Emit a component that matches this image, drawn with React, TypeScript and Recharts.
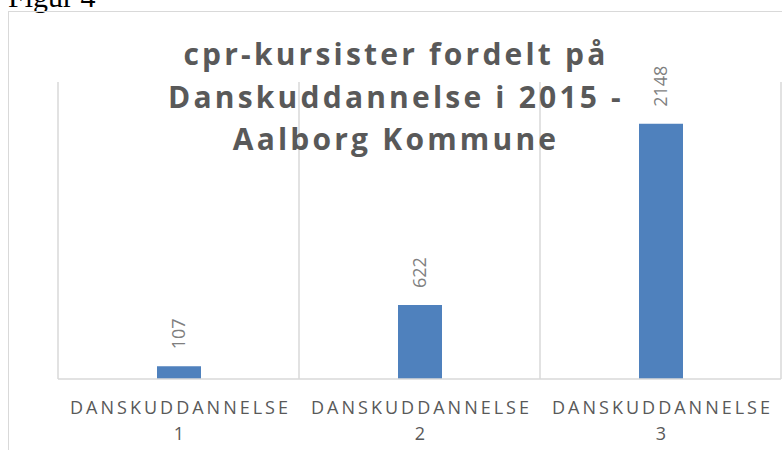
import React from "react"
import { BarChart, Bar, XAxis, YAxis, CartesianGrid, LabelList } from "recharts"

const categories = ["DANSKUDDANNELSE 1", "DANSKUDDANNELSE 2", "DANSKUDDANNELSE 3"]
const values = [107, 622, 2148]
const titleLines = ["cpr-kursister fordelt på", "Danskuddannelse i 2015 -", "Aalborg Kommune"]

const chartData = categories.map((name, i) => ({ name, value: values[i] }))

const FONT = "'Open Sans', 'Noto Sans', sans-serif"

function CategoryTick(props: any) {
  const { x, y, payload } = props
  const words = String(payload.value).split(" ")
  return (
    <g transform={`translate(${x},${y})`}>
      <text
        textAnchor="middle"
        fill="#595959"
        fontFamily={FONT}
        fontSize={18}
        letterSpacing={3}
      >
        <tspan x={2} dy={27}>{words[0]}</tspan>
        <tspan x={2} dy={26}>{words[1]}</tspan>
      </text>
    </g>
  )
}

function RotatedValue(props: any) {
  const { x, y, width, value } = props
  const cx = x + width / 2
  const cy = y - 17
  return (
    <text
      x={cx}
      y={cy}
      transform={`rotate(-90 ${cx} ${cy})`}
      textAnchor="start"
      dy="0.36em"
      fill="#7f7f7f"
      fontFamily={FONT}
      fontSize={18}
    >
      {value}
    </text>
  )
}

export default function App() {
  return (
    <div style={{ position: "fixed", left: 0, top: 0, width: 782, height: 450, overflow: "hidden", background: "#fff" }}>
      {/* caption above the chart frame, cut off at the top */}
      <svg width={200} height={20} style={{ position: "absolute", left: 0, top: 0 }}>
        <text x={8} y={7} fontFamily="'Liberation Serif', serif" fontSize={30} fill="#000">
          Figur 4
        </text>
      </svg>
      {/* chart frame, open to the right and bottom */}
      <div
        style={{
          position: "absolute",
          left: 8,
          top: 11,
          width: 780,
          height: 445,
          borderTop: "1.5px solid #d9d9d9",
          borderLeft: "1.5px solid #d9d9d9"
        }}
      />
      <div style={{ position: "absolute", left: 0, top: 0 }}>
        <BarChart width={782} height={450} data={chartData} margin={{ top: 82, right: 1, left: 58, bottom: 0 }}>
          <CartesianGrid
            horizontal={false}
            stroke="#d9d9d9"
            strokeWidth={1.5}
            verticalCoordinatesGenerator={({ offset }: any) =>
              [0, 1, 2, 3].map(i => offset.left + (i * offset.width) / 3)
            }
          />
          <XAxis
            dataKey="name"
            height={71}
            axisLine={{ stroke: "#d9d9d9", strokeWidth: 1.5 }}
            tickLine={false}
            interval={0}
            tick={<CategoryTick />}
          />
          <YAxis hide domain={[0, 2500]} />
          <Bar dataKey="value" fill="#4f81bd" barSize={44} isAnimationActive={false}>
            <LabelList dataKey="value" content={<RotatedValue />} />
          </Bar>
        </BarChart>
      </div>
      {/* title */}
      <div
        style={{
          position: "absolute",
          left: 0,
          top: 33,
          width: 792,
          textAlign: "center",
          fontFamily: FONT,
          fontWeight: 700,
          fontSize: 30,
          lineHeight: "42.5px",
          letterSpacing: 3.2,
          color: "#595959"
        }}
      >
        {titleLines.map(line => (
          <div key={line}>{line}</div>
        ))}
      </div>
    </div>
  )
}
